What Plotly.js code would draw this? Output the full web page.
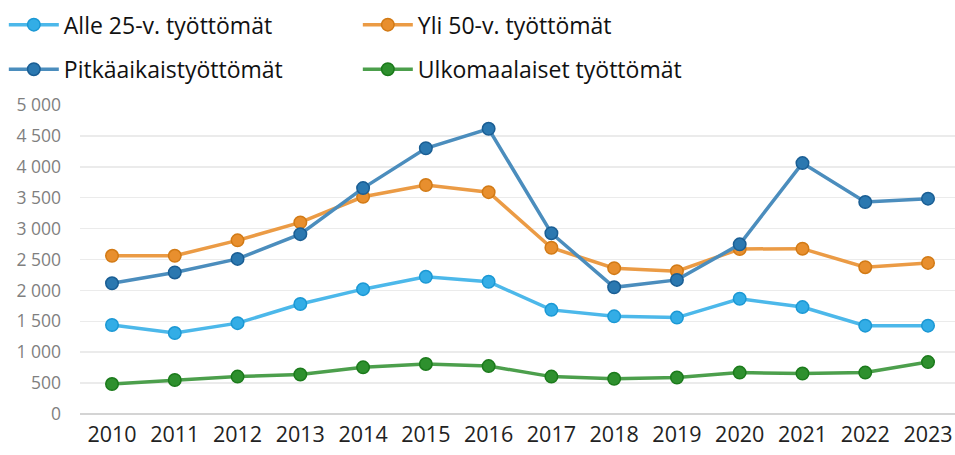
<!DOCTYPE html>
<html>
<head>
<meta charset="utf-8">
<script src="https://cdn.plot.ly/plotly-3.0.1.min.js"></script>
<style>html,body{margin:0;padding:0;background:#fff;}#chart{width:955px;height:455px;}</style>
</head>
<body>
<div id="chart"></div>
<script>
const years = [2010,2011,2012,2013,2014,2015,2016,2017,2018,2019,2020,2021,2022,2023];
const alle25 = [1440,1310,1470,1780,2020,2220,2140,1685,1580,1560,1865,1730,1430,1430];
const yli50 = [2560,2560,2810,3100,3515,3705,3590,2690,2360,2310,2670,2675,2375,2445];
const pitka = [2115,2290,2510,2910,3655,4300,4615,2925,2050,2170,2745,4060,3430,3485];
const ulko = [485,550,605,640,755,810,775,605,570,590,670,655,670,840];
const yTicks = [0,500,1000,1500,2000,2500,3000,3500,4000,4500,5000];
const yTickText = ['0','500','1 000','1 500','2 000','2 500','3 000','3 500','4 000','4 500','5 000'];

function tr(name, y, line, fill, outline, legend) {
  return {
    x: years, y: y, name: name, type: 'scatter', mode: 'lines+markers',
    line: {color: line, width: 3.5},
    marker: {size: 12.5, color: fill, line: {color: outline, width: 1.5}},
    legend: legend
  };
}
const data = [
  tr('Alle 25-v. työttömät', alle25, '#4cb8ea', '#33ade6', '#1b98d4', 'legend'),
  tr('Yli 50-v. työttömät', yli50, '#eb9b45', '#e88f2e', '#d27a15', 'legend'),
  tr('Pitkäaikaistyöttömät', pitka, '#4b8dbd', '#2b78b0', '#1a5e94', 'legend2'),
  tr('Ulkomaalaiset työttömät', ulko, '#4c9f4c', '#2e902e', '#1b7a1b', 'legend2')
];
const legFont = {family: 'Open Sans, sans-serif', size: 23, color: '#111'};
const layout = {
  width: 955, height: 455,
  margin: {l: 80, r: 0, t: 105, b: 41},
  paper_bgcolor: '#fff', plot_bgcolor: '#fff',
  font: {family: 'Open Sans, sans-serif'},
  xaxis: {
    range: [2009.49, 2023.43], tickmode: 'array', tickvals: years,
    ticktext: years.map(String), showgrid: false, zeroline: false,
    showline: false, ticks: '',
    tickfont: {size: 21.5, color: '#222'}, ticklabelstandoff: 5
  },
  yaxis: {
    range: [0, 5000], tickmode: 'array', tickvals: yTicks, ticktext: yTickText,
    showgrid: true, gridcolor: '#ebebeb', gridwidth: 1.5,
    zeroline: true, zerolinecolor: '#d4d4d4', zerolinewidth: 2,
    showline: false, ticks: '',
    tickfont: {size: 17.5, color: '#7f7f7f'}, ticklabelstandoff: 18
  },
  showlegend: true,
  legend: {
    orientation: 'h', xref: 'container', yref: 'container',
    x: 0.004, y: 0.993, xanchor: 'left', yanchor: 'top',
    entrywidth: 289, entrywidthmode: 'pixels', font: legFont,
    bgcolor: 'rgba(0,0,0,0)', itemwidth: 50
  },
  legend2: {
    orientation: 'h', xref: 'container', yref: 'container',
    x: 0.004, y: 0.895, xanchor: 'left', yanchor: 'top',
    entrywidth: 289, entrywidthmode: 'pixels', font: legFont,
    bgcolor: 'rgba(0,0,0,0)', itemwidth: 50
  }
};
Plotly.newPlot('chart', data, layout, {displayModeBar: false, staticPlot: true});
</script>
</body>
</html>
